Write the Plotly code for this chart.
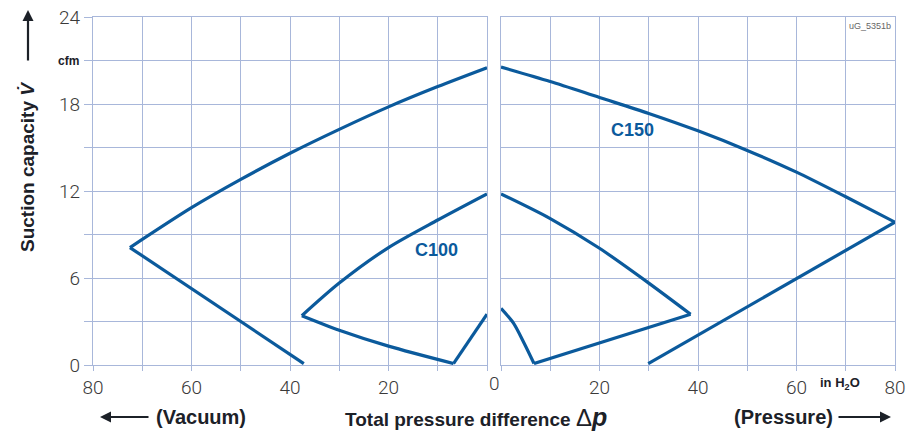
import plotly.graph_objects as go
from plotly.subplots import make_subplots

# ---- data ----
# Vacuum side (left panel, x = vacuum in in H2O)
c150_vac_arc_x = [0, 10, 20, 30, 40, 50, 60, 72.5]
c150_vac_arc_y = [20.5, 19.2, 17.8, 16.25, 14.6, 12.8, 10.85, 8.1]
c150_vac_line_x = [72.5, 37.2]
c150_vac_line_y = [8.1, 0.1]

c100_vac_arc_x = [0, 10, 20, 30, 37.6]
c100_vac_arc_y = [11.8, 10.0, 8.1, 5.65, 3.4]
c100_vac_low_x = [37.6, 30, 20, 6.8]
c100_vac_low_y = [3.4, 2.4, 1.3, 0.1]
c100_vac_end_x = [6.8, 0]
c100_vac_end_y = [0.1, 3.5]

# Pressure side (right panel, x = pressure in in H2O)
c150_pr_arc_x = [0, 10, 20, 30, 40, 50, 60, 70, 80]
c150_pr_arc_y = [20.55, 19.55, 18.45, 17.35, 16.15, 14.8, 13.3, 11.6, 9.85]
c150_pr_line_x = [80, 29.9]
c150_pr_line_y = [9.85, 0.1]

c100_pr_arc_x = [0, 10, 20, 30, 38.5]
c100_pr_arc_y = [11.8, 10.1, 8.05, 5.65, 3.5]
c100_pr_line_x = [38.5, 6.7]
c100_pr_line_y = [3.5, 0.1]
c100_pr_end_x = [6.7, 4.7, 2.5, 0]
c100_pr_end_y = [0.1, 1.5, 2.9, 3.9]

x_tickvals = [0, 10, 20, 30, 40, 50, 60, 70, 80]
x_ticktext = ["", "", "20", "", "40", "", "60", "", "80"]
y_tickvals = [0, 3, 6, 9, 12, 15, 18, 21, 24]
y_ticktext = ["0", "", "6", "", "12", "", "18", "", "24"]

# ---- style ----
W, H = 908, 434
ML, MT = 93, 17
PW, PH = 802, 348
MR = W - ML - PW
MB = H - MT - PH
GRID = "#a8b7da"
CURVE = "#0b5a9c"
TXT = "#1c2128"
TICKFONT = dict(family="Roboto, Liberation Sans, sans-serif", size=19, color="#3a3a3a", weight=300)
BOLD = "Liberation Sans, Arial, sans-serif"


def px(xp):
    return (xp - ML) / PW


def py(yp):
    return (MT + PH - yp) / PH


fig = make_subplots(rows=1, cols=2, shared_yaxes=False, horizontal_spacing=0)

segments = [
    (c150_vac_arc_x, c150_vac_arc_y, 1, "spline"),
    (c150_vac_line_x, c150_vac_line_y, 1, "linear"),
    (c100_vac_arc_x, c100_vac_arc_y, 1, "spline"),
    (c100_vac_low_x, c100_vac_low_y, 1, "spline"),
    (c100_vac_end_x, c100_vac_end_y, 1, "linear"),
    (c150_pr_arc_x, c150_pr_arc_y, 2, "spline"),
    (c150_pr_line_x, c150_pr_line_y, 2, "linear"),
    (c100_pr_arc_x, c100_pr_arc_y, 2, "spline"),
    (c100_pr_line_x, c100_pr_line_y, 2, "linear"),
    (c100_pr_end_x, c100_pr_end_y, 2, "spline"),
]
for xs, ys, col, shape in segments:
    fig.add_trace(go.Scatter(x=xs, y=ys, mode="lines",
                             line=dict(color=CURVE, width=3.2, shape=shape, smoothing=0.8),
                             hoverinfo="skip", showlegend=False), row=1, col=col)

left_dom = [0, 394 / PW]
right_dom = [(501 - 93) / PW, 1]

common_x = dict(tickvals=x_tickvals, ticktext=x_ticktext, showgrid=True, gridcolor=GRID,
                gridwidth=1.3, zeroline=False, showline=True, linecolor=GRID, linewidth=1.3,
                mirror=True, ticks="outside", ticklen=5, tickcolor=GRID, tickwidth=1.3,
                tickfont=TICKFONT, automargin=False)
fig.update_layout(
    xaxis=dict(domain=left_dom, range=[80, 0], **common_x),
    xaxis2=dict(domain=right_dom, range=[0, 80], **common_x),
    yaxis=dict(range=[0, 24], tickvals=y_tickvals, ticktext=y_ticktext, showgrid=True,
               gridcolor=GRID, gridwidth=1.3, zeroline=False, showline=True, linecolor=GRID,
               linewidth=1.3, mirror=True, ticks="outside", ticklen=8, tickcolor=GRID,
               tickwidth=1.3, tickfont=TICKFONT, automargin=False),
    yaxis2=dict(range=[0, 24], tickvals=y_tickvals, showticklabels=False, showgrid=True,
                gridcolor=GRID, gridwidth=1.3, zeroline=False, showline=True, linecolor=GRID,
                linewidth=1.3, mirror=True, ticks="", automargin=False),
    width=W, height=H,
    margin=dict(l=ML, r=MR, t=MT, b=MB, autoexpand=False),
    plot_bgcolor="white", paper_bgcolor="white",
    showlegend=False,
)


def label(xp, yp, text, size, color=TXT, xanchor="center", family=BOLD, **kw):
    return dict(x=px(xp), y=py(yp), xref="paper", yref="paper", text=text, showarrow=False,
                xanchor=xanchor, yanchor="middle",
                font=dict(family=family, size=size, color=color), **kw)


def arrow(xp, yp, ax, ay):
    return dict(x=px(xp), y=py(yp), xref="paper", yref="paper", text="", showarrow=True,
                ax=ax, ay=ay, arrowhead=2, arrowsize=1, arrowwidth=2.2, arrowcolor=TXT,
                standoff=0, startstandoff=0)


ann = []
ann.append(dict(x=26.8, y=16.2, xref="x2", yref="y", text="<b>C150</b>", showarrow=False,
                xanchor="center", yanchor="middle", font=dict(family=BOLD, size=18, color=CURVE)))
ann.append(dict(x=10.2, y=7.9, xref="x", yref="y", text="<b>C100</b>", showarrow=False,
                xanchor="center", yanchor="middle", font=dict(family=BOLD, size=18, color=CURVE)))
ann.append(label(893, 26, "uG_5351b", 9, color="#666", xanchor="right"))
zero = label(494, 384, "0", 19)
zero["font"] = TICKFONT
ann.append(zero)
ann.append(label(68, 60.5, "<b>cfm</b>", 12))
ann.append(label(840, 384, "<b>in H<sub>2</sub>O</b>", 13))
ann.append(label(27, 167, "<b>Suction capacity</b> <b><i>V\u0307</i></b>", 19, textangle=-90))
ann.append(arrow(28, 10, 0, 52))
ann.append(label(476, 417,
                 "<b>Total pressure difference</b> <span style='font-size:24px'>\u0394</span><b><i><span style='font-size:25px'>p</span></i></b>",
                 19))
ann.append(label(201, 417, "<b>(Vacuum)</b>", 20))
ann.append(label(783, 417, "<b>(Pressure)</b>", 20))
ann.append(arrow(100, 417, 50, 0))
ann.append(arrow(891, 417, -54, 0))

fig.update_layout(annotations=ann)
fig.write_html("out.html", config={"displayModeBar": False},
               post_script="document.body.style.margin='0';document.body.style.overflow='hidden';")
